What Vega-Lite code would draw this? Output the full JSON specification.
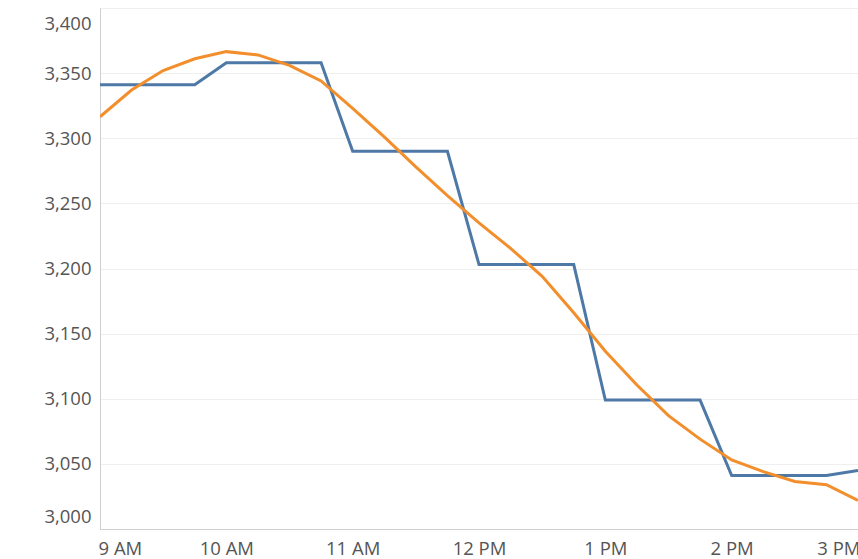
{
  "$schema": "https://vega.github.io/schema/vega-lite/v6.json",
  "width": 758,
  "height": 521,
  "autosize": {"type": "none"},
  "padding": {"left": 100, "top": 8, "right": 0, "bottom": 30},
  "background": "white",
  "config": {
    "view": {"stroke": "#d4d4d4", "strokeWidth": 1},
    "axis": {
      "labelFont": "Open Sans",
      "labelFontSize": 18.5,
      "labelColor": "#555555",
      "domainColor": "#cfcfcf",
      "gridColor": "#efefef",
      "ticks": false,
      "title": null
    }
  },
  "data": {
    "values": [
      {"time": "2024-01-01T09:00", "series": "Actual", "value": 3341},
      {"time": "2024-01-01T09:15", "series": "Actual", "value": 3341},
      {"time": "2024-01-01T09:30", "series": "Actual", "value": 3341},
      {"time": "2024-01-01T09:45", "series": "Actual", "value": 3341},
      {"time": "2024-01-01T10:00", "series": "Actual", "value": 3358},
      {"time": "2024-01-01T10:15", "series": "Actual", "value": 3358},
      {"time": "2024-01-01T10:30", "series": "Actual", "value": 3358},
      {"time": "2024-01-01T10:45", "series": "Actual", "value": 3358},
      {"time": "2024-01-01T11:00", "series": "Actual", "value": 3290},
      {"time": "2024-01-01T11:15", "series": "Actual", "value": 3290},
      {"time": "2024-01-01T11:30", "series": "Actual", "value": 3290},
      {"time": "2024-01-01T11:45", "series": "Actual", "value": 3290},
      {"time": "2024-01-01T12:00", "series": "Actual", "value": 3203},
      {"time": "2024-01-01T12:15", "series": "Actual", "value": 3203},
      {"time": "2024-01-01T12:30", "series": "Actual", "value": 3203},
      {"time": "2024-01-01T12:45", "series": "Actual", "value": 3203},
      {"time": "2024-01-01T13:00", "series": "Actual", "value": 3099},
      {"time": "2024-01-01T13:15", "series": "Actual", "value": 3099},
      {"time": "2024-01-01T13:30", "series": "Actual", "value": 3099},
      {"time": "2024-01-01T13:45", "series": "Actual", "value": 3099},
      {"time": "2024-01-01T14:00", "series": "Actual", "value": 3041},
      {"time": "2024-01-01T14:15", "series": "Actual", "value": 3041},
      {"time": "2024-01-01T14:30", "series": "Actual", "value": 3041},
      {"time": "2024-01-01T14:45", "series": "Actual", "value": 3041},
      {"time": "2024-01-01T15:00", "series": "Actual", "value": 3045},
      {"time": "2024-01-01T09:00", "series": "Trend", "value": 3316.5},
      {"time": "2024-01-01T09:15", "series": "Trend", "value": 3337},
      {"time": "2024-01-01T09:30", "series": "Trend", "value": 3352},
      {"time": "2024-01-01T09:45", "series": "Trend", "value": 3361},
      {"time": "2024-01-01T10:00", "series": "Trend", "value": 3366.5},
      {"time": "2024-01-01T10:15", "series": "Trend", "value": 3364},
      {"time": "2024-01-01T10:30", "series": "Trend", "value": 3356},
      {"time": "2024-01-01T10:45", "series": "Trend", "value": 3344},
      {"time": "2024-01-01T11:00", "series": "Trend", "value": 3323},
      {"time": "2024-01-01T11:15", "series": "Trend", "value": 3301},
      {"time": "2024-01-01T11:30", "series": "Trend", "value": 3278},
      {"time": "2024-01-01T11:45", "series": "Trend", "value": 3256},
      {"time": "2024-01-01T12:00", "series": "Trend", "value": 3235},
      {"time": "2024-01-01T12:15", "series": "Trend", "value": 3215.5},
      {"time": "2024-01-01T12:30", "series": "Trend", "value": 3194},
      {"time": "2024-01-01T12:45", "series": "Trend", "value": 3166},
      {"time": "2024-01-01T13:00", "series": "Trend", "value": 3136.5},
      {"time": "2024-01-01T13:15", "series": "Trend", "value": 3110.5},
      {"time": "2024-01-01T13:30", "series": "Trend", "value": 3087},
      {"time": "2024-01-01T13:45", "series": "Trend", "value": 3069},
      {"time": "2024-01-01T14:00", "series": "Trend", "value": 3053},
      {"time": "2024-01-01T14:15", "series": "Trend", "value": 3044},
      {"time": "2024-01-01T14:30", "series": "Trend", "value": 3036.5},
      {"time": "2024-01-01T14:45", "series": "Trend", "value": 3034},
      {"time": "2024-01-01T15:00", "series": "Trend", "value": 3022}
    ]
  },
  "mark": {"type": "line", "strokeWidth": 3, "clip": true},
  "encoding": {
    "x": {
      "field": "time",
      "type": "temporal",
      "scale": {"domain": [{"year": 2024, "month": 1, "date": 1, "hours": 9}, {"year": 2024, "month": 1, "date": 1, "hours": 15}], "nice": false},
      "axis": {
        "values": [
          {"year": 2024, "month": 1, "date": 1, "hours": 9},
          {"year": 2024, "month": 1, "date": 1, "hours": 10},
          {"year": 2024, "month": 1, "date": 1, "hours": 11},
          {"year": 2024, "month": 1, "date": 1, "hours": 12},
          {"year": 2024, "month": 1, "date": 1, "hours": 13},
          {"year": 2024, "month": 1, "date": 1, "hours": 14},
          {"year": 2024, "month": 1, "date": 1, "hours": 15}
        ],
        "format": "%-I %p",
        "grid": false,
        "labelFlush": true,
        "labelFlushOffset": 2,
        "labelPadding": 10
      }
    },
    "y": {
      "field": "value",
      "type": "quantitative",
      "scale": {"domain": [3000, 3400], "nice": false, "zero": false},
      "axis": {
        "values": [3000, 3050, 3100, 3150, 3200, 3250, 3300, 3350, 3400],
        "format": ",.0f",
        "grid": true,
        "labelFlush": false,
        "labelOffset": {"expr": "datum.value >= 3400 ? 15 : (datum.value <= 3000 ? -13 : 0)"},
        "labelPadding": 9
      }
    },
    "color": {
      "field": "series",
      "type": "nominal",
      "scale": {"domain": ["Actual", "Trend"], "range": ["#4e79a7", "#f28e2b"]},
      "legend": null
    }
  }
}
